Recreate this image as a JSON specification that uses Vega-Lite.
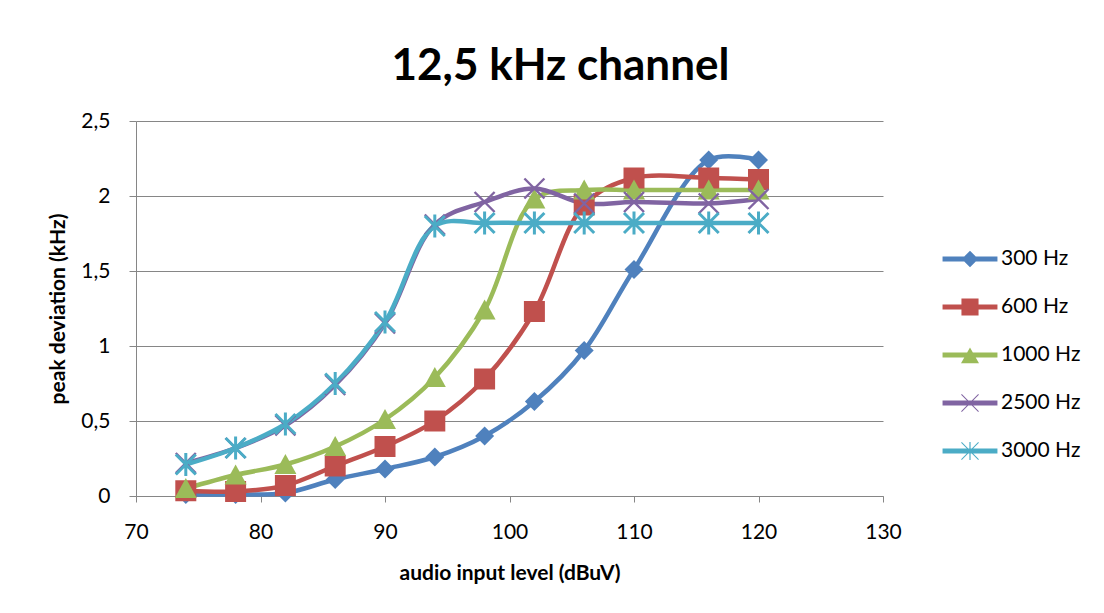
{
  "$schema": "https://vega.github.io/schema/vega-lite/v6.json",
  "autosize": {"type": "none"},
  "width": 747,
  "height": 375,
  "padding": {"left": 136, "top": 121, "right": 221, "bottom": 117},
  "background": "white",
  "title": {"text": "12,5 kHz channel", "font": "Lato", "fontSize": 44, "fontWeight": "bold", "color": "#000000", "anchor": "middle", "dx": 51, "dy": 55, "offset": 41, "baseline": "alphabetic"},
  "config": {"view": {"stroke": null}},
  "data": {"values": [
    {"series": "300 Hz", "level": 74, "dev": 0.01},
    {"series": "300 Hz", "level": 78, "dev": 0.01},
    {"series": "300 Hz", "level": 82, "dev": 0.02},
    {"series": "300 Hz", "level": 86, "dev": 0.11},
    {"series": "300 Hz", "level": 90, "dev": 0.18},
    {"series": "300 Hz", "level": 94, "dev": 0.26},
    {"series": "300 Hz", "level": 98, "dev": 0.40},
    {"series": "300 Hz", "level": 102, "dev": 0.63},
    {"series": "300 Hz", "level": 106, "dev": 0.97},
    {"series": "300 Hz", "level": 110, "dev": 1.51},
    {"series": "300 Hz", "level": 116, "dev": 2.24},
    {"series": "300 Hz", "level": 120, "dev": 2.24},
    {"series": "600 Hz", "level": 74, "dev": 0.035},
    {"series": "600 Hz", "level": 78, "dev": 0.03},
    {"series": "600 Hz", "level": 82, "dev": 0.07},
    {"series": "600 Hz", "level": 86, "dev": 0.20},
    {"series": "600 Hz", "level": 90, "dev": 0.33},
    {"series": "600 Hz", "level": 94, "dev": 0.50},
    {"series": "600 Hz", "level": 98, "dev": 0.78},
    {"series": "600 Hz", "level": 102, "dev": 1.23},
    {"series": "600 Hz", "level": 106, "dev": 1.94},
    {"series": "600 Hz", "level": 110, "dev": 2.12},
    {"series": "600 Hz", "level": 116, "dev": 2.12},
    {"series": "600 Hz", "level": 120, "dev": 2.11},
    {"series": "1000 Hz", "level": 74, "dev": 0.05},
    {"series": "1000 Hz", "level": 78, "dev": 0.14},
    {"series": "1000 Hz", "level": 82, "dev": 0.21},
    {"series": "1000 Hz", "level": 86, "dev": 0.33},
    {"series": "1000 Hz", "level": 90, "dev": 0.51},
    {"series": "1000 Hz", "level": 94, "dev": 0.79},
    {"series": "1000 Hz", "level": 98, "dev": 1.24},
    {"series": "1000 Hz", "level": 102, "dev": 1.98},
    {"series": "1000 Hz", "level": 106, "dev": 2.04},
    {"series": "1000 Hz", "level": 110, "dev": 2.04},
    {"series": "1000 Hz", "level": 116, "dev": 2.04},
    {"series": "1000 Hz", "level": 120, "dev": 2.04},
    {"series": "2500 Hz", "level": 74, "dev": 0.22},
    {"series": "2500 Hz", "level": 78, "dev": 0.32},
    {"series": "2500 Hz", "level": 82, "dev": 0.47},
    {"series": "2500 Hz", "level": 86, "dev": 0.74},
    {"series": "2500 Hz", "level": 90, "dev": 1.15},
    {"series": "2500 Hz", "level": 94, "dev": 1.81},
    {"series": "2500 Hz", "level": 98, "dev": 1.96},
    {"series": "2500 Hz", "level": 102, "dev": 2.05},
    {"series": "2500 Hz", "level": 106, "dev": 1.95},
    {"series": "2500 Hz", "level": 110, "dev": 1.96},
    {"series": "2500 Hz", "level": 116, "dev": 1.95},
    {"series": "2500 Hz", "level": 120, "dev": 1.98},
    {"series": "3000 Hz", "level": 74, "dev": 0.21},
    {"series": "3000 Hz", "level": 78, "dev": 0.32},
    {"series": "3000 Hz", "level": 82, "dev": 0.48},
    {"series": "3000 Hz", "level": 86, "dev": 0.75},
    {"series": "3000 Hz", "level": 90, "dev": 1.16},
    {"series": "3000 Hz", "level": 94, "dev": 1.80},
    {"series": "3000 Hz", "level": 98, "dev": 1.82},
    {"series": "3000 Hz", "level": 102, "dev": 1.82},
    {"series": "3000 Hz", "level": 106, "dev": 1.82},
    {"series": "3000 Hz", "level": 110, "dev": 1.82},
    {"series": "3000 Hz", "level": 116, "dev": 1.82},
    {"series": "3000 Hz", "level": 120, "dev": 1.82}
  ]},
  "encoding": {
    "x": {
      "field": "level", "type": "quantitative",
      "scale": {"domain": [70, 130], "nice": false, "zero": false},
      "axis": {
        "title": "audio input level (dBuV)", "titleFont": "Lato", "titleFontSize": 21, "titleFontWeight": "bold", "titleColor": "#000000",
        "titleX": 373.5, "titleY": 77, "titleBaseline": "middle", "titleAlign": "center",
        "values": [70, 80, 90, 100, 110, 120, 130], "grid": false,
        "domainColor": "#868686", "tickColor": "#868686", "tickSize": 6,
        "labelFont": "Lato", "labelFontSize": 21, "labelColor": "#000000", "labelBaseline": "middle", "labelPadding": 30,
        "labelFlush": false, "labelOverlap": false
      }
    },
    "y": {
      "field": "dev", "type": "quantitative",
      "scale": {"domain": [0, 2.5], "nice": false},
      "axis": {
        "title": "peak deviation (kHz)", "titleFont": "Lato", "titleFontSize": 21, "titleFontWeight": "bold", "titleColor": "#000000",
        "titleX": -78, "titleY": 187.5, "titleBaseline": "middle", "titleAlign": "center", "titleAngle": -90,
        "values": [0, 0.5, 1, 1.5, 2, 2.5], "grid": true, "gridColor": "#868686", "gridWidth": 1,
        "domainColor": "#868686", "tickColor": "#868686", "tickSize": 7,
        "labelFont": "Lato", "labelFontSize": 21, "labelColor": "#000000", "labelAlign": "right", "labelBaseline": "middle", "labelPadding": 19,
        "labelExpr": "replace(toString(datum.value), '.', ',')", "labelFlush": false, "labelOverlap": false
      }
    },
    "color": {
      "field": "series", "type": "nominal",
      "scale": {"domain": ["300 Hz", "600 Hz", "1000 Hz", "2500 Hz", "3000 Hz"], "range": ["#4F81BD", "#C0504D", "#9BBB59", "#8064A2", "#4BACC6"]},
      "legend": {
        "orient": "none", "legendX": 819, "legendY": 123, "title": null, "padding": 0,
        "labelFont": "Lato", "labelFontSize": 21, "labelColor": "#000000", "labelOffset": 16,
        "symbolSize": 900, "rowPadding": 23,
        "encoding": {"symbols": {
          "shape": {"value": {"expr": "datum.value === '300 Hz' ? 'M-1.83,-0.167L1.83,-0.167L1.83,0.167L-1.83,0.167ZM0,-0.55L0.55,0L0,0.55L-0.55,0Z' : datum.value === '600 Hz' ? 'M-1.83,-0.167L1.83,-0.167L1.83,0.167L-1.83,0.167ZM-0.57,-0.57L0.57,-0.57L0.57,0.57L-0.57,0.57Z' : datum.value === '1000 Hz' ? 'M-1.83,-0.167L1.83,-0.167L1.83,0.167L-1.83,0.167ZM0,-0.5L0.6,0.55L-0.6,0.55Z' : datum.value === '2500 Hz' ? 'M-1.83,-0.167L1.83,-0.167L1.83,0.167L-1.83,0.167ZM-0.546,-0.594L0.594,0.546L0.546,0.594L-0.594,-0.546ZM-0.594,0.546L0.546,-0.594L0.594,-0.546L-0.546,0.594Z' : 'M-1.83,-0.167L1.83,-0.167L1.83,0.167L-1.83,0.167ZM-0.546,-0.594L0.594,0.546L0.546,0.594L-0.594,-0.546ZM-0.594,0.546L0.546,-0.594L0.594,-0.546L-0.546,0.594ZM-0.04,-0.6L0.04,-0.6L0.04,0.6L-0.04,0.6Z'"}},
          "fill": {"value": {"expr": "scale('color', datum.value)"}},
          "strokeWidth": {"value": 0},
          "opacity": {"value": 1}
        }}
      }
    }
  },
  "layer": [
    {"mark": {"type": "line", "interpolate": "catmull-rom", "strokeWidth": 4.5}},
    {
      "mark": {"type": "point", "filled": true, "opacity": 1, "size": 400, "strokeWidth": 0},
      "encoding": {
        "shape": {
          "field": "series", "type": "nominal", "legend": null,
          "scale": {
            "range": [
              "M0,-1.05L1.1,0.95L-1.1,0.95Z",
              "M-0.915,-1.085L1.085,0.915L0.915,1.085L-1.085,-0.915ZM-1.085,0.915L0.915,-1.085L1.085,-0.915L-0.915,1.085Z",
              "M0,-0.95L0.95,0L0,0.95L-0.95,0Z",
              "M-0.894,-1.106L1.106,0.894L0.894,1.106L-1.106,-0.894ZM-1.106,0.894L0.894,-1.106L1.106,-0.894L-0.894,1.106ZM-0.15,-1.15L0.15,-1.15L0.15,1.15L-0.15,1.15Z",
              "M-1.05,-1.05L1.05,-1.05L1.05,1.05L-1.05,1.05Z"
            ]
          }
        }
      }
    }
  ]
}
